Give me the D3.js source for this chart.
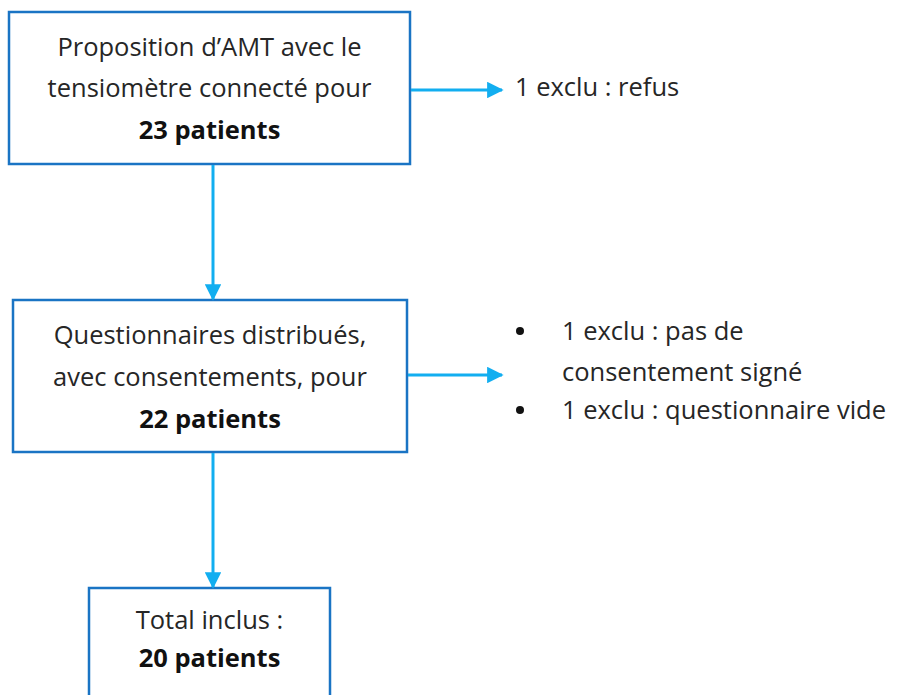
<!DOCTYPE html>
<html>
<head>
<meta charset="utf-8">
<script src="https://cdn.jsdelivr.net/npm/d3@7"></script>
<style>
  body { margin: 0; background: #fff; }
  svg { display: block; }
  text { font-variant-ligatures: none; }
</style>
</head>
<body>
<div id="chart"></div>
<script>
// flow steps (top to bottom)
var stepText = [
  ["Proposition d\u2019AMT avec le", "tensiomètre connecté pour"],
  ["Questionnaires distribués,", "avec consentements, pour"],
  ["Total inclus :"]
];
var stepCount = ["23 patients", "22 patients", "20 patients"];

// exclusions going out to the right of a step
var exclText = [
  ["1 exclu : refus"],
  ["1 exclu : pas de", "consentement signé"],
  ["1 exclu : questionnaire vide"]
];
var exclBullet = [false, true, true];

var width = 898, height = 695;

var svg = d3.select("#chart").append("svg")
    .attr("width", width)
    .attr("height", height);

var defs = svg.append("defs");
defs.append("marker")
    .attr("id", "arrow")
    .attr("viewBox", "0 0 10 10")
    .attr("refX", 9)
    .attr("refY", 5)
    .attr("markerWidth", 5.5)
    .attr("markerHeight", 5.5)
    .attr("markerUnits", "strokeWidth")
    .attr("orient", "auto")
  .append("path")
    .attr("d", "M0,0L10,5L0,10z")
    .attr("fill", "#12aef0");

// layout
var y = d3.scaleLinear().domain([0, 2]).range([12, 588]);
var boxLeft = [9, 13, 89], boxRight = [410, 407, 330];
var boxH = 152;
var font = "'Open Sans', sans-serif";
var fs = 25.5;
var cx = 213;

var box = svg.selectAll(".step")
    .data(stepText)
  .enter().append("g")
    .attr("class", "step")
    .attr("transform", function(d, i) { return "translate(0," + y(i) + ")"; });

box.append("rect")
    .attr("x", function(d, i) { return boxLeft[i]; })
    .attr("y", 0)
    .attr("width", function(d, i) { return boxRight[i] - boxLeft[i]; })
    .attr("height", boxH)
    .attr("fill", "#fff")
    .attr("stroke", "#1a74c4")
    .attr("stroke-width", 2.5);

box.each(function(d, i) {
  var g = d3.select(this);
  var mid = (boxLeft[i] + boxRight[i]) / 2;
  var top = i == 2 ? 32 : 35;
  var lines = d.concat([stepCount[i]]);
  var gap = i == 2 ? 38 : (i == 1 ? 42 : 41.5);
  g.selectAll("text")
      .data(lines)
    .enter().append("text")
      .attr("x", mid)
      .attr("y", function(t, j) { return top + j * gap; })
      .attr("dy", "0.35em")
      .attr("text-anchor", "middle")
      .attr("font-family", font)
      .attr("font-size", fs)
      .attr("font-weight", function(t, j) { return j == lines.length - 1 ? "bold" : "normal"; })
      .attr("fill", function(t, j) { return j == lines.length - 1 ? "#111" : "#262626"; })
      .text(function(t) { return t; });
});

// vertical arrows between steps
svg.selectAll(".down")
    .data(d3.range(stepText.length - 1))
  .enter().append("line")
    .attr("class", "down")
    .attr("x1", cx)
    .attr("y1", function(i) { return y(i) + boxH + 1; })
    .attr("x2", cx)
    .attr("y2", function(i) { return y(i + 1) - 1; })
    .attr("stroke", "#12aef0")
    .attr("stroke-width", 3)
    .attr("marker-end", "url(#arrow)");

// arrows out to the exclusions
var outY = [90, 375];
svg.selectAll(".out")
    .data(outY)
  .enter().append("line")
    .attr("class", "out")
    .attr("x1", function(d, i) { return boxRight[i] + 1; })
    .attr("y1", function(d) { return d; })
    .attr("x2", 502)
    .attr("y2", function(d) { return d; })
    .attr("stroke", "#12aef0")
    .attr("stroke-width", 3)
    .attr("marker-end", "url(#arrow)");

// exclusion texts
var exclY = [87, 331, 410];
var ex = svg.selectAll(".excl")
    .data(exclText)
  .enter().append("g")
    .attr("class", "excl")
    .attr("transform", function(d, i) { return "translate(0," + exclY[i] + ")"; });

ex.filter(function(d, i) { return exclBullet[i]; })
  .append("circle")
    .attr("cx", 520)
    .attr("cy", 0)
    .attr("r", 4)
    .attr("fill", "#111");

ex.each(function(d, i) {
  d3.select(this).selectAll("text")
      .data(d)
    .enter().append("text")
      .attr("x", exclBullet[i] ? 562 : 515)
      .attr("y", function(t, j) { return j * 41; })
      .attr("dy", "0.35em")
      .attr("font-family", font)
      .attr("font-size", fs)
      .attr("fill", "#262626")
      .text(function(t) { return t; });
});
</script>
</body>
</html>
